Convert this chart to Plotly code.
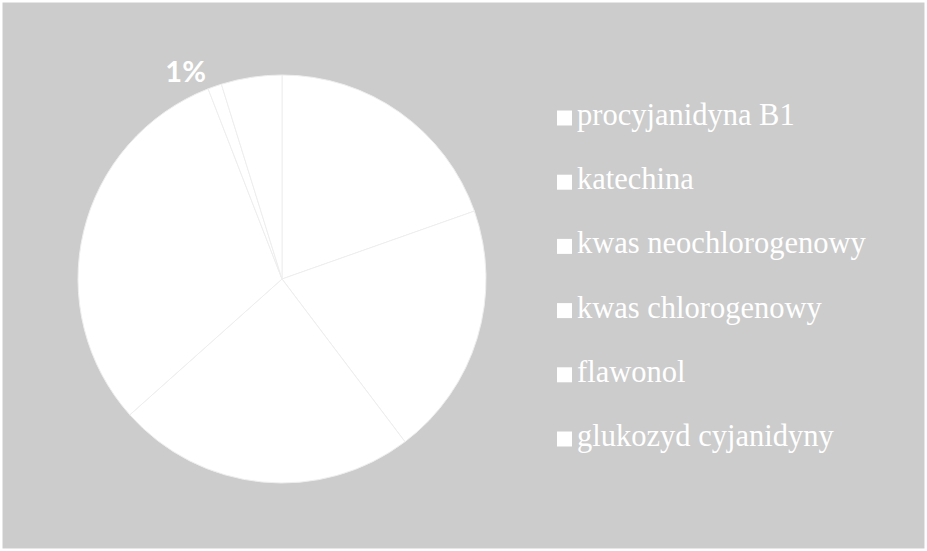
import plotly.graph_objects as go

# udział związków (%)
labels = [
    "procyjanidyna B1",
    "katechina",
    "kwas neochlorogenowy",
    "kwas chlorogenowy",
    "flawonol",
    "glukozyd cyjanidyny",
]
values = [19.6, 20.1, 23.7, 30.7, 1.1, 4.8]

W, H = 927, 551
BG = "#cccccc"

# pie center / radius in pixels
cx, cy, r = 282, 279, 204

fig = go.Figure()
fig.add_trace(
    go.Pie(
        labels=labels,
        values=values,
        sort=False,
        direction="clockwise",
        rotation=0,
        marker=dict(colors=["white"] * len(labels), line=dict(color="#eeeeee", width=1)),
        texttemplate="%{percent:.0%}",
        textposition=["none", "none", "none", "none", "outside", "none"],
        outsidetextfont=dict(family="Lato", size=29, color="white", weight="bold"),
        domain=dict(
            x=[(cx - r) / W, (cx + r) / W],
            y=[(H - cy - r) / H, (H - cy + r) / H],
        ),
        showlegend=False,
        hoverinfo="label+percent",
    )
)

# legend drawn by hand so the row spacing matches the original
row0, step = 118, 64.2
shapes = [
    dict(type="rect", xref="paper", yref="paper", x0=0, x1=1, y0=0, y1=1,
         line=dict(color="white", width=5), fillcolor="rgba(0,0,0,0)")
]
annotations = []
for i, name in enumerate(labels):
    y = row0 + i * step
    shapes.append(
        dict(type="rect", xref="paper", yref="paper",
             x0=557 / W, x1=572 / W, y0=1 - (y + 7.5) / H, y1=1 - (y - 7.5) / H,
             fillcolor="white", line=dict(width=0))
    )
    annotations.append(
        dict(text=name, xref="paper", yref="paper", x=575 / W, y=1 - (y - 3) / H,
             xanchor="left", yanchor="middle", showarrow=False,
             font=dict(family="Liberation Serif", size=30.5, color="white"))
    )

fig.update_layout(
    width=W,
    height=H,
    margin=dict(t=0, b=0, l=0, r=0),
    paper_bgcolor=BG,
    plot_bgcolor=BG,
    shapes=shapes,
    annotations=annotations,
)

# drop the default page margin so the chart fills the window
fig.write_html(
    "out.html",
    config={"displayModeBar": False},
    post_script="document.body.style.margin = '0';",
)
